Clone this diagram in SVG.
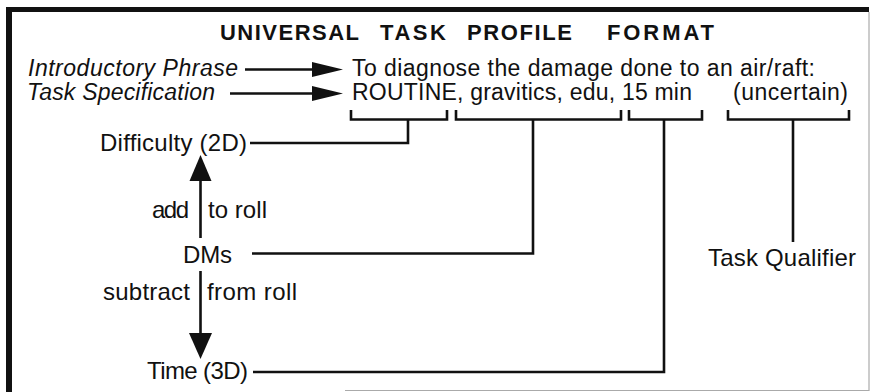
<svg xmlns="http://www.w3.org/2000/svg" width="871" height="392" viewBox="0 0 871 392">
<defs>
<style>
text{font-family:"Liberation Sans",Arial,sans-serif;font-size:24px;fill:#111}
.title{font-weight:bold;font-size:22px}
.row{font-size:23px}
.it{font-style:italic}
.ln{stroke:#111;stroke-width:2.6;fill:none}
.ah{fill:#111}
</style>
</defs>
<rect x="0" y="0" width="871" height="392" fill="#fff"/>
<g id="frame">
<rect x="6" y="7" width="863" height="5" fill="#111"/>
<rect x="6" y="7" width="6" height="385" fill="#111"/>
<line x1="869" y1="12" x2="869" y2="391" stroke="#999" stroke-width="1"/>
<line x1="345" y1="390.5" x2="869" y2="390.5" stroke="#aaa" stroke-width="1"/>
</g>
<g id="title">
<text class="title" x="220" y="40" textLength="139" lengthAdjust="spacing">UNIVERSAL</text>
<text class="title" x="380" y="40" textLength="66" lengthAdjust="spacing">TASK</text>
<text class="title" x="467" y="40" textLength="105" lengthAdjust="spacing">PROFILE</text>
<text class="title" x="607" y="40" textLength="107" lengthAdjust="spacing">FORMAT</text>
</g>
<g id="intro"><text class="it row" x="28" y="76" textLength="210" lengthAdjust="spacing">Introductory Phrase</text></g>
<g id="taskspec"><text class="it row" x="27" y="100" textLength="188" lengthAdjust="spacing">Task Specification</text></g>
<g id="phrase"><text class="row" x="352" y="76" textLength="463" lengthAdjust="spacing">To diagnose the damage done to an air/raft:</text></g>
<g id="spec"><text class="row" x="352" y="100" textLength="340" lengthAdjust="spacing">ROUTINE, gravitics, edu, 15 min</text><text class="row" x="733" y="100" textLength="115" lengthAdjust="spacing">(uncertain)</text></g>
<g id="difficulty"><text x="100" y="151" textLength="147" lengthAdjust="spacing">Difficulty (2D)</text></g>
<g id="dms"><text x="183" y="263" textLength="49" lengthAdjust="spacing">DMs</text></g>
<g id="time"><text x="147" y="379" textLength="101" lengthAdjust="spacing">Time (3D)</text></g>
<g id="qualifier"><text x="708" y="266" textLength="148" lengthAdjust="spacing">Task Qualifier</text></g>
<g id="labels">
<text x="152" y="218" textLength="37" lengthAdjust="spacing">add</text>
<text x="208" y="218" textLength="59" lengthAdjust="spacing">to roll</text>
<text x="103" y="300" textLength="87" lengthAdjust="spacing">subtract</text>
<text x="207" y="300" textLength="90" lengthAdjust="spacing">from roll</text>
</g>
<g id="connectors">
<line class="ln" x1="245" y1="69.5" x2="314" y2="69.5"/>
<polygon class="ah" points="312,62 343,69.5 312,77"/>
<line class="ln" x1="230" y1="93.5" x2="314" y2="93.5"/>
<polygon class="ah" points="312,86 343,93.5 312,101"/>
<path class="ln" d="M351,110 V119.5 H447 V110"/>
<path class="ln" d="M456,110 V119.5 H621 V110"/>
<path class="ln" d="M629,110 V119.5 H702 V110"/>
<path class="ln" d="M728,110 V119.5 H849 V110"/>
<path class="ln" d="M408,119.5 V143 H250"/>
<path class="ln" d="M533,119.5 V253.5 H252"/>
<path class="ln" d="M664,119.5 V372 H253"/>
<line class="ln" x1="793" y1="119.5" x2="793" y2="242"/>
<line class="ln" x1="200.5" y1="178" x2="200.5" y2="238"/>
<polygon class="ah" points="189.5,181 200.5,155 211.5,181"/>
<line class="ln" x1="200.5" y1="271" x2="200.5" y2="336"/>
<polygon class="ah" points="189,333 200.5,359 212,333"/>
</g>
</svg>
